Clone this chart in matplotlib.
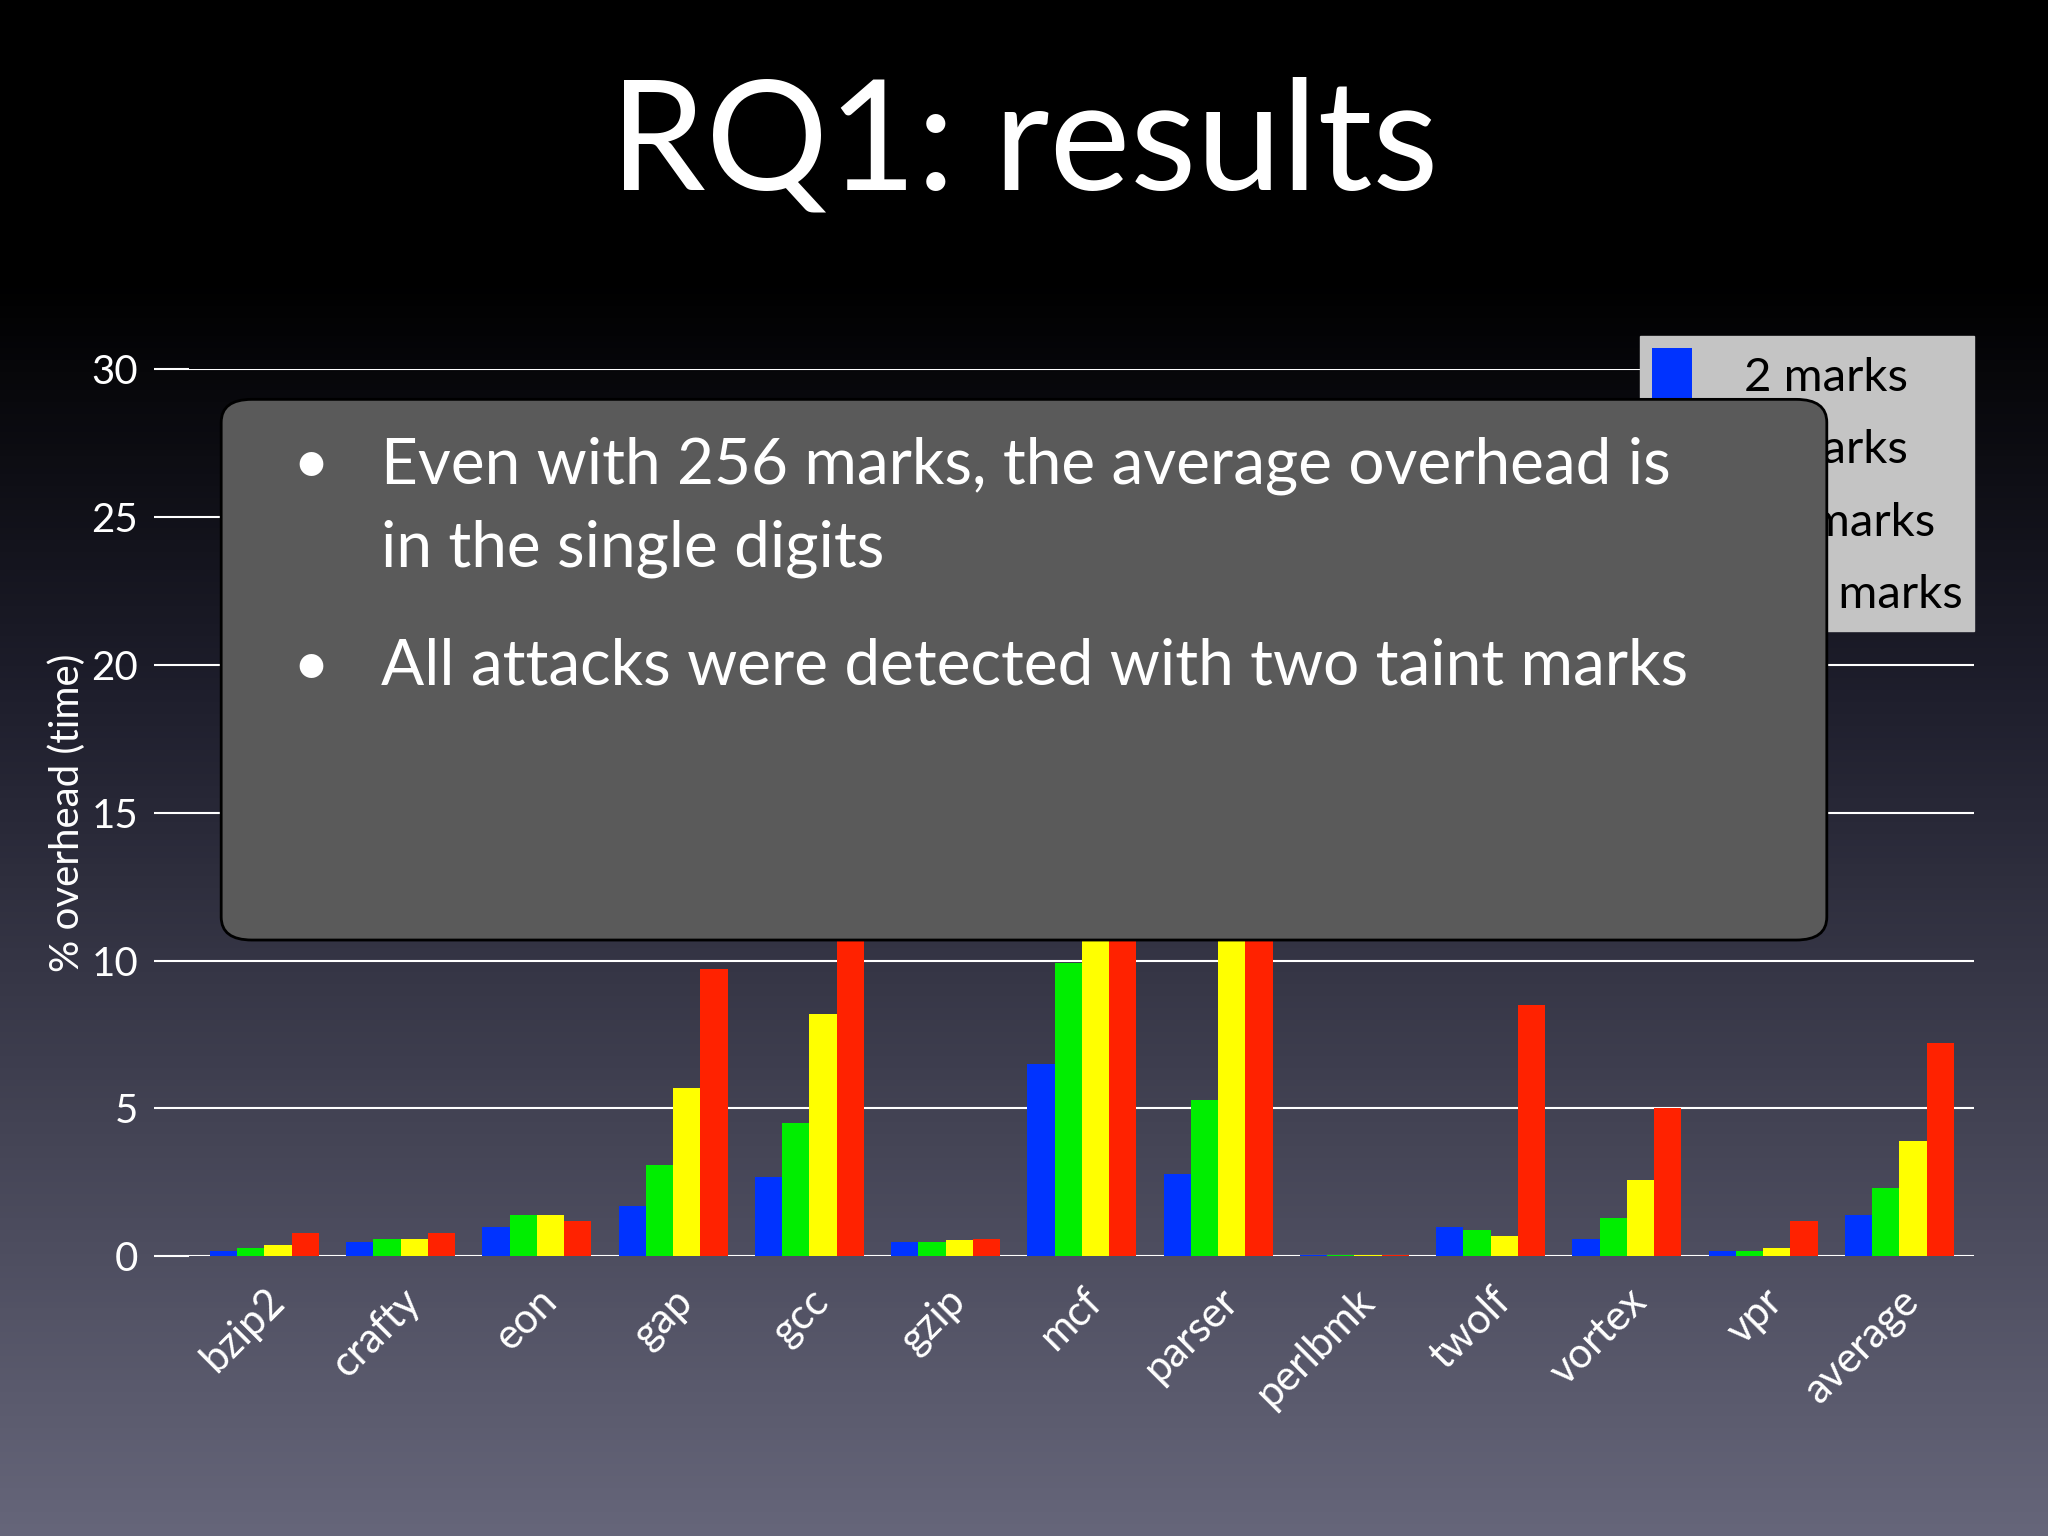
import matplotlib
matplotlib.use("Agg")
import matplotlib.pyplot as plt
import numpy as np
from matplotlib.patches import FancyBboxPatch
from matplotlib.colors import LinearSegmentedColormap

categories = ["bzip2","crafty","eon","gap","gcc","gzip","mcf","parser","perlbmk","twolf","vortex","vpr","average"]
series_names = ["2 marks","8 marks","64 marks","256 marks"]
m2   = [0.2,0.5,1.0,1.7,2.7,0.5,6.5,2.8,0.05,1.0,0.6,0.2,1.4]
m8   = [0.3,0.6,1.4,3.1,4.5,0.5,9.9,5.3,0.05,0.9,1.3,0.2,2.3]
m64  = [0.4,0.6,1.4,5.7,8.2,0.55,13.0,12.0,0.05,0.7,2.6,0.3,3.9]
m256 = [0.8,0.8,1.2,9.7,12.0,0.6,16.0,14.0,0.05,8.5,5.0,1.2,7.2]
yticks = [0,5,10,15,20,25,30]
colors = ["#0033ff","#00ee00","#ffff00","#ff2200"]
FONT = "Lato"

fig = plt.figure(figsize=(20.48,15.36), dpi=100)
bg = fig.add_axes([0,0,1,1], zorder=-10)
grad = np.linspace(0,1,256)[:,None]
cm = LinearSegmentedColormap.from_list("bg",[(0,"#000000"),(0.18,"#000000"),(0.45,"#1e1e2c"),(1,"#66667a")])
bg.imshow(grad, aspect="auto", cmap=cm, extent=[0,1,0,1], origin="upper")
bg.axis("off")

ax = fig.add_axes([0.0925,0.182,0.8715,0.578])
ax.patch.set_alpha(0)
x = np.arange(len(categories))
w = 0.2
for i,(vals,c) in enumerate(zip([m2,m8,m64,m256],colors)):
    ax.bar(x+(i-1.5)*w, vals, w, color=c, label=series_names[i], zorder=3)
ax.set_ylim(0,30)
ax.set_xlim(-0.55,len(categories)-0.45)
ax.set_yticks(yticks)
for t in yticks:
    ax.axhline(t, color="white", lw=1.5, zorder=1)
for s in ax.spines.values(): s.set_visible(False)
ax.tick_params(axis="y", colors="white", labelsize=29, length=25, width=1.5, pad=12)
ax.tick_params(axis="x", length=0, pad=18)
for lab in ax.get_yticklabels(): lab.set_family(FONT)
ax.set_xticks(x)
ax.set_xticklabels(categories, rotation=45, ha="right", va="top", rotation_mode="anchor",
                   color="white", fontsize=30, family=FONT)
ax.set_ylabel("% overhead (time)", color="white", fontsize=29, family=FONT, labelpad=4)

leg = ax.legend(loc="upper right", bbox_to_anchor=(1.0,1.037), frameon=True, fancybox=False,
                prop={"family":FONT,"size":34}, handlelength=0.85, handleheight=1.4,
                borderpad=0.25, labelspacing=0.38, handletextpad=1.1, borderaxespad=0)
leg.get_frame().set_facecolor("#c4c4c4"); leg.get_frame().set_edgecolor("#c4c4c4"); leg.get_frame().set_alpha(1)

fig.text(0.5,0.905,"RQ1: results", color="white", fontsize=110, family=FONT, ha="center", va="center")

box = FancyBboxPatch((0.108,0.388),0.784,0.352, boxstyle="round,pad=0,rounding_size=0.015",
                     transform=fig.transFigure, facecolor="#5a5a5a", edgecolor="black", lw=2, zorder=20)
fig.add_artist(box)
tx = 0.186
fig.text(0.143,0.697,"•", color="white", fontsize=46, family=FONT, va="center", zorder=21)
fig.text(tx,0.697,"Even with 256 marks, the average overhead is", color="white", fontsize=46, family=FONT, va="center", zorder=21)
fig.text(tx,0.643,"in the single digits", color="white", fontsize=46, family=FONT, va="center", zorder=21)
fig.text(0.143,0.566,"•", color="white", fontsize=46, family=FONT, va="center", zorder=21)
fig.text(tx,0.566,"All attacks were detected with two taint marks", color="white", fontsize=46, family=FONT, va="center", zorder=21)

fig.savefig("out.png", dpi=100)
